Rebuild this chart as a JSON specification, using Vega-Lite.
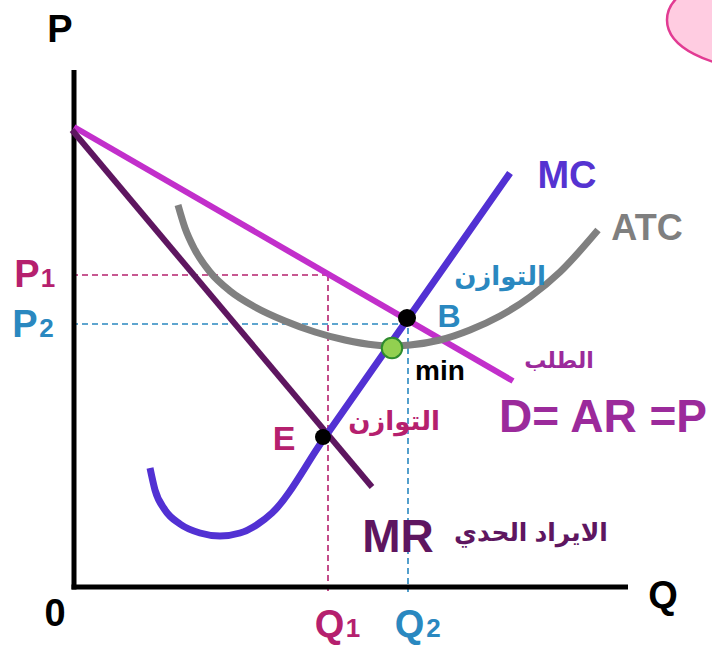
{
  "$schema": "https://vega.github.io/schema/vega-lite/v6.json",
  "width": 712,
  "height": 645,
  "padding": 0,
  "autosize": {"type": "fit", "contains": "padding"},
  "background": "white",
  "config": {"view": {"stroke": null}},
  "datasets": {
    "axes": [
      {"q": 0, "p": 517, "q2": 0, "p2": -2.5},
      {"q": -2.5, "p": 0, "q2": 554, "p2": 0}
    ],
    "guides": [
      {"g": "P1", "q": -2, "p": 312, "q2": 254, "p2": 312},
      {"g": "P1", "q": 254, "p": 312, "q2": 254, "p2": -4},
      {"g": "P2", "q": -2, "p": 263, "q2": 334, "p2": 263},
      {"g": "P2", "q": 334, "p": 269, "q2": 334, "p2": -5}
    ],
    "curves": [
      {"curve": "D", "q": 0, "p": 460},
      {"curve": "D", "q": 439, "p": 206},
      {"curve": "MR", "q": -2, "p": 457},
      {"curve": "MR", "q": 298, "p": 100},
      {"curve": "MC", "q": 76, "p": 119},
      {"curve": "MC", "q": 81, "p": 97},
      {"curve": "MC", "q": 91, "p": 77},
      {"curve": "MC", "q": 106, "p": 63},
      {"curve": "MC", "q": 126, "p": 54},
      {"curve": "MC", "q": 146, "p": 51},
      {"curve": "MC", "q": 166, "p": 54},
      {"curve": "MC", "q": 184, "p": 63},
      {"curve": "MC", "q": 198, "p": 74},
      {"curve": "MC", "q": 249, "p": 147},
      {"curve": "MC", "q": 333, "p": 267},
      {"curve": "MC", "q": 436, "p": 414},
      {"curve": "ATC", "q": 104, "p": 382},
      {"curve": "ATC", "q": 111, "p": 359},
      {"curve": "ATC", "q": 121, "p": 337},
      {"curve": "ATC", "q": 136, "p": 315},
      {"curve": "ATC", "q": 156, "p": 296},
      {"curve": "ATC", "q": 181, "p": 280},
      {"curve": "ATC", "q": 211, "p": 266},
      {"curve": "ATC", "q": 241, "p": 255},
      {"curve": "ATC", "q": 271, "p": 247},
      {"curve": "ATC", "q": 301, "p": 242},
      {"curve": "ATC", "q": 318, "p": 241},
      {"curve": "ATC", "q": 336, "p": 242},
      {"curve": "ATC", "q": 366, "p": 247},
      {"curve": "ATC", "q": 396, "p": 257},
      {"curve": "ATC", "q": 426, "p": 271},
      {"curve": "ATC", "q": 456, "p": 290},
      {"curve": "ATC", "q": 486, "p": 315},
      {"curve": "ATC", "q": 524, "p": 357}
    ],
    "blackdots": [
      {"pt": "E", "q": 249, "p": 150},
      {"pt": "B", "q": 333, "p": 269}
    ],
    "greendot": [{"pt": "min", "q": 318, "p": 239}],
    "ellipse": [{"pt": "badge", "q": 686, "p": 567}],
    "labels": [
      {"t": "P", "q": -14, "p": 545, "g": "axis"},
      {"t": "Q", "q": 589, "p": -21, "g": "axis"},
      {"t": "0", "q": -19, "p": -39, "g": "axis"},
      {"t": "P", "q": -47, "p": 300, "g": "m"},
      {"t": "1", "q": -26, "p": 300, "g": "ms"},
      {"t": "P", "q": -49, "p": 250, "g": "b"},
      {"t": "2", "q": -27.5, "p": 250, "g": "bs"},
      {"t": "Q", "q": 255.5, "p": -50, "g": "m"},
      {"t": "1", "q": 279, "p": -50, "g": "ms"},
      {"t": "Q", "q": 335.5, "p": -50, "g": "b"},
      {"t": "2", "q": 359.5, "p": -50, "g": "bs"},
      {"t": "MC", "q": 493, "p": 399, "g": "MC"},
      {"t": "ATC", "q": 573, "p": 347, "g": "ATC"},
      {"t": "B", "q": 375, "p": 260, "g": "B"},
      {"t": "min", "q": 366, "p": 207, "g": "min"},
      {"t": "D= AR =P", "q": 529, "p": 155, "g": "D"},
      {"t": "MR", "q": 324, "p": 35, "g": "MR"},
      {"t": "الايراد الحدي", "q": 457, "p": 46, "g": "arMR"},
      {"t": "التوازن", "q": 426, "p": 302, "g": "arB"},
      {"t": "الطلب", "q": 485, "p": 219, "g": "arD"},
      {"t": "التوازن", "q": 320, "p": 157, "g": "arE"},
      {"t": "E", "q": 210, "p": 137, "g": "E"}
    ]
  },
  "encoding": {
    "x": {"field": "q", "type": "quantitative", "axis": null, "scale": {"domain": [-74, 638], "nice": false, "zero": false}},
    "y": {"field": "p", "type": "quantitative", "axis": null, "scale": {"domain": [-58, 587], "nice": false, "zero": false}}
  },
  "layer": [
    {
      "data": {"name": "ellipse"},
      "mark": {"type": "point", "shape": "M-1,0A1,0.52,0,1,0,1,0A1,0.52,0,1,0,-1,0Z", "size": 34600, "filled": true, "fill": "#FFCCE1", "stroke": "#E23B93", "strokeWidth": 2.5, "opacity": 1, "clip": true}
    },
    {
      "data": {"name": "guides"},
      "transform": [{"filter": "datum.g === 'P1'"}],
      "mark": {"type": "rule", "color": "#B5206E", "strokeWidth": 1.6, "strokeDash": [6, 4]},
      "encoding": {"x2": {"field": "q2"}, "y2": {"field": "p2"}}
    },
    {
      "data": {"name": "guides"},
      "transform": [{"filter": "datum.g === 'P2'"}],
      "mark": {"type": "rule", "color": "#2A88C0", "strokeWidth": 1.6, "strokeDash": [6, 4]},
      "encoding": {"x2": {"field": "q2"}, "y2": {"field": "p2"}}
    },
    {
      "data": {"name": "axes"},
      "mark": {"type": "rule", "color": "#000000", "strokeWidth": 5},
      "encoding": {"x2": {"field": "q2"}, "y2": {"field": "p2"}}
    },
    {
      "data": {"name": "curves"},
      "mark": {"type": "line", "interpolate": "monotone"},
      "encoding": {
        "color": {"field": "curve", "type": "nominal", "legend": null, "scale": {"domain": ["D", "MR", "MC", "ATC"], "range": ["#C22FCB", "#5E1660", "#5231D3", "#808080"]}},
        "strokeWidth": {"field": "curve", "type": "nominal", "legend": null, "scale": {"type": "ordinal", "domain": ["D", "MR", "MC", "ATC"], "range": [6, 6, 7, 7]}}
      }
    },
    {
      "data": {"name": "blackdots"},
      "mark": {"type": "point", "shape": "circle", "filled": true, "color": "#000000", "opacity": 1},
      "encoding": {"size": {"field": "pt", "type": "nominal", "legend": null, "scale": {"type": "ordinal", "domain": ["E", "B"], "range": [256, 324]}}}
    },
    {
      "data": {"name": "greendot"},
      "mark": {"type": "point", "shape": "circle", "filled": true, "fill": "#92D050", "stroke": "#2E8B2E", "strokeWidth": 2, "size": 420, "opacity": 1}
    },
    {
      "data": {"name": "labels"},
      "mark": {"type": "text", "align": "center", "baseline": "alphabetic", "font": "Liberation Sans, DejaVu Sans", "fontWeight": "bold"},
      "encoding": {
        "text": {"field": "t"},
        "color": {"field": "g", "type": "nominal", "legend": null, "scale": {"domain": ["axis", "m", "ms", "b", "bs", "MC", "ATC", "B", "min", "D", "MR", "arMR", "arB", "arD", "arE", "E"], "range": ["#000000", "#B5206E", "#B5206E", "#2A88C0", "#2A88C0", "#5533D1", "#7F7F7F", "#2A88C0", "#000000", "#9B2A9B", "#5E1660", "#5E1660", "#2A88C0", "#9B2A9B", "#B5206E", "#B5206E"]}},
        "size": {"field": "g", "type": "nominal", "legend": null, "scale": {"type": "ordinal", "domain": ["axis", "m", "ms", "b", "bs", "MC", "ATC", "B", "min", "D", "MR", "arMR", "arB", "arD", "arE", "E"], "range": [38, 38, 26, 38, 26, 38, 36, 32, 28, 46, 46, 25, 26, 22, 26, 34]}}
      }
    }
  ],
  "resolve": {"scale": {"color": "independent", "size": "independent", "strokeWidth": "independent"}}
}
